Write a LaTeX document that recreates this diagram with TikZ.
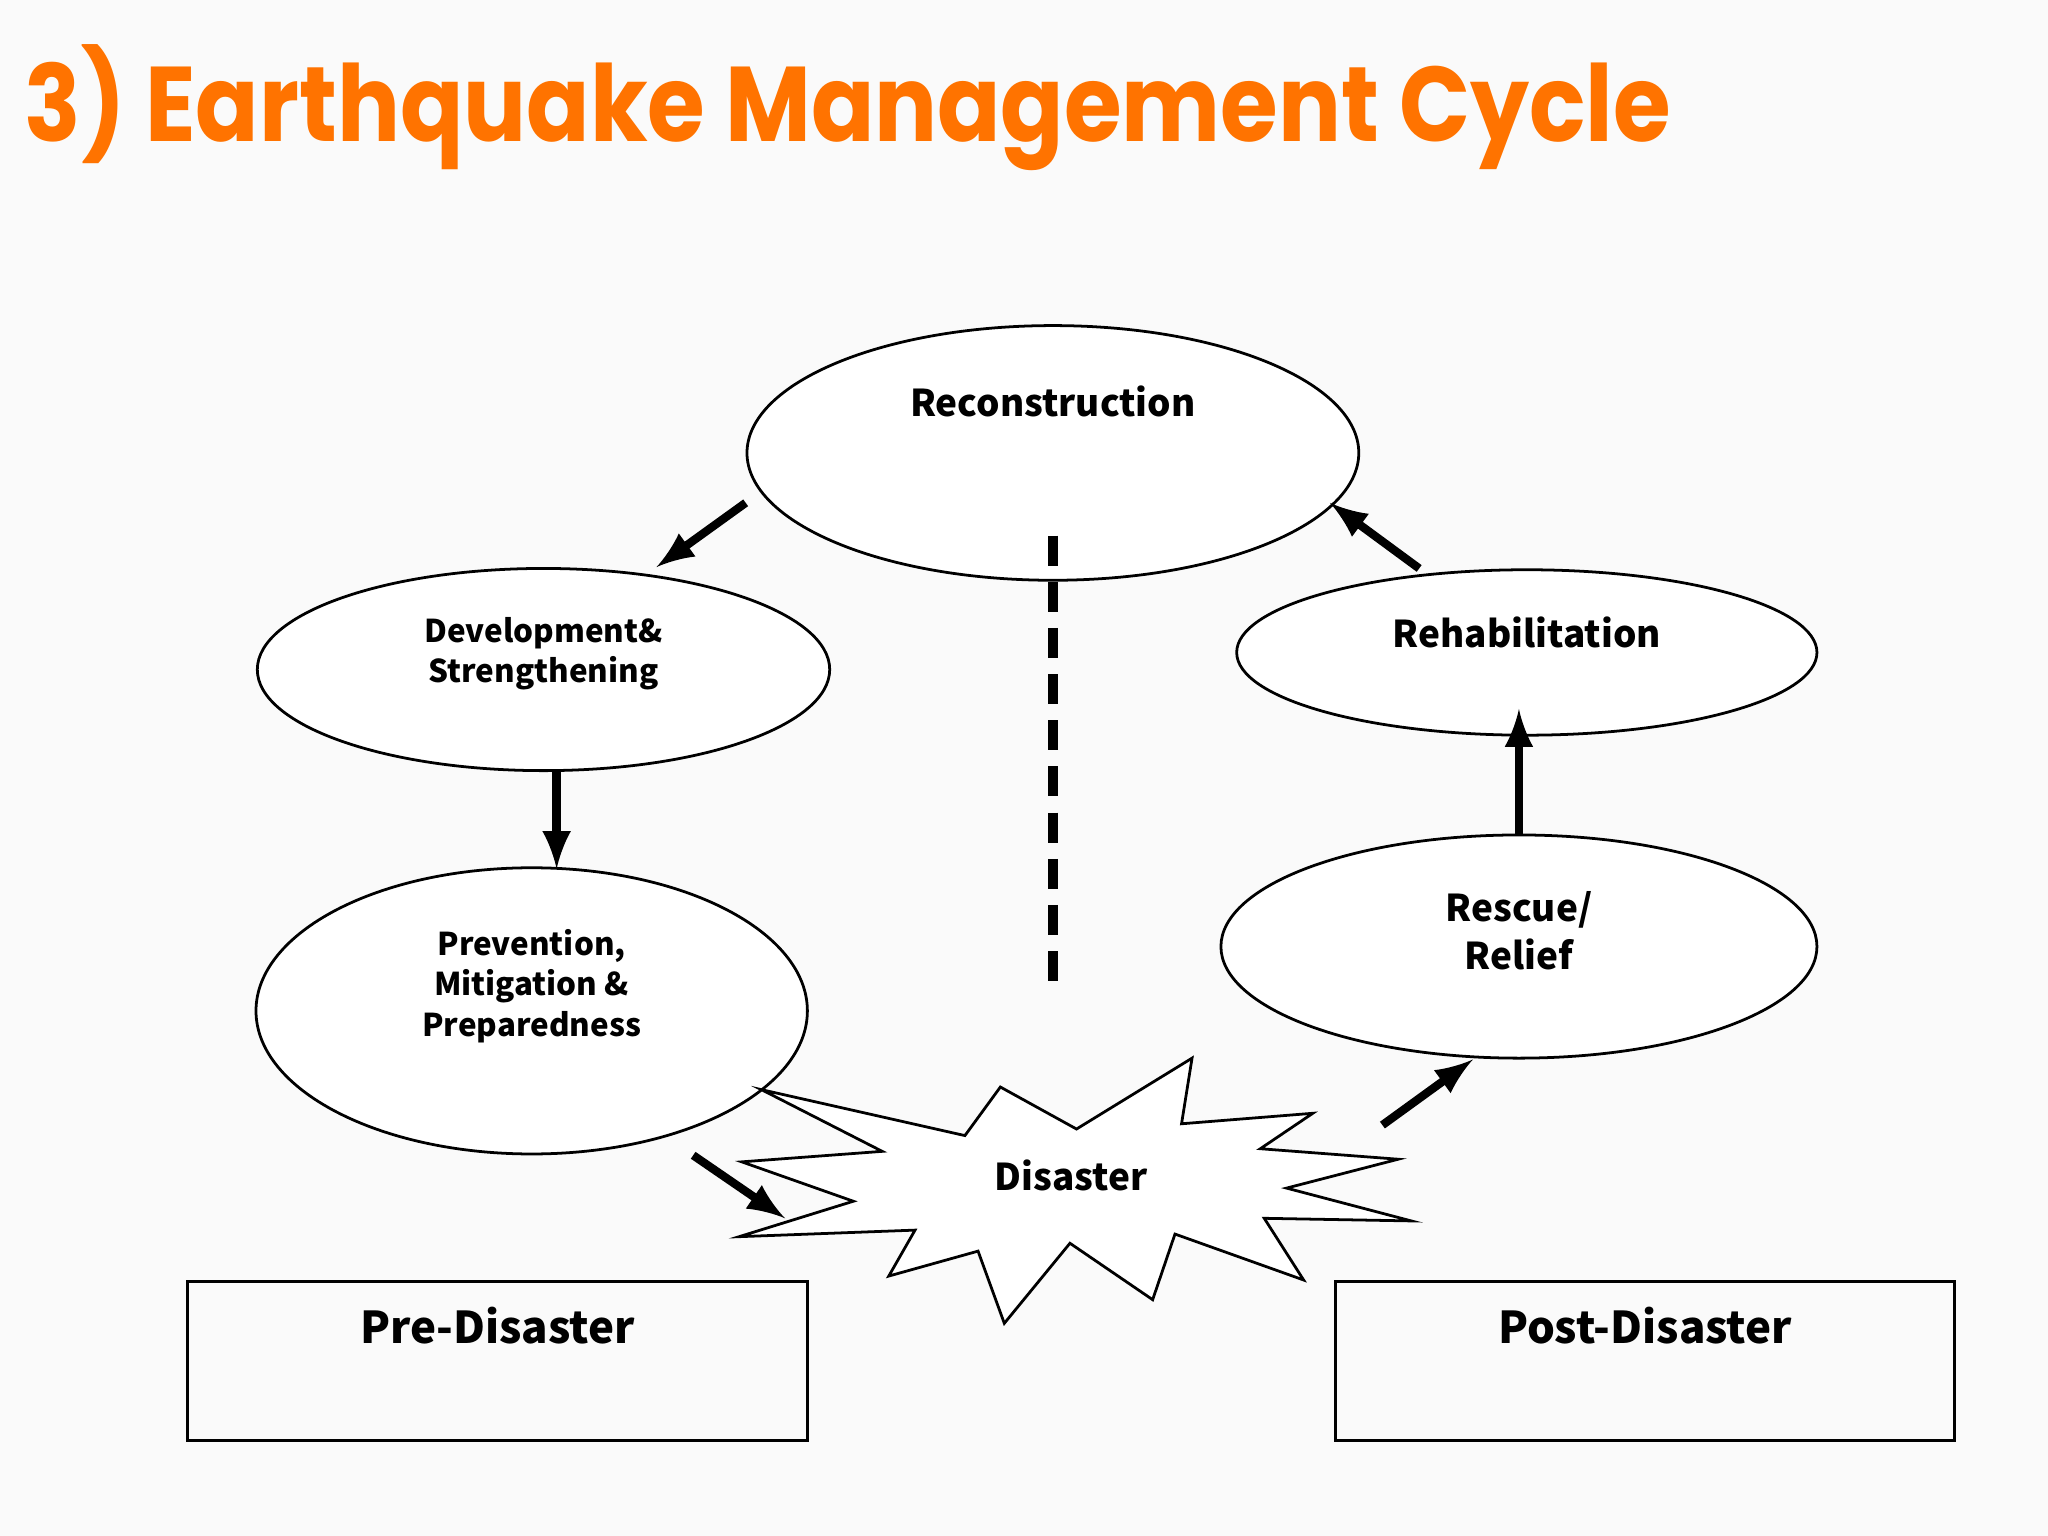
\documentclass[tikz,border=0pt]{standalone}
\usepackage{fontspec}
\setmainfont{Noto Sans CJK JP}
\newfontfamily\titlefont[FakeStretch=0.88]{Poppins}
\begin{document}
\begin{tikzpicture}[x=0.01cm,y=-0.01cm,
  lbl/.style={align=center},
  arr/.style={-latex,line width=1.8pt},
  box/.style={draw,semithick}]
\useasboundingbox (0,0) rectangle (1560,1170);
\fill[white!98!black] (0,0) rectangle (1560,1170);
\node[anchor=base west,inner sep=0pt,text=orange!90!red,font=\titlefont\fontsize{23pt}{26pt}\selectfont\bfseries] (title) at (18,108) {3) Earthquake Management Cycle};
% ellipses
\draw[semithick,fill=white] (802,345) ellipse [x radius=233,y radius=97];
\node[lbl,font=\fontsize{8pt}{10pt}\selectfont\bfseries] (rec) at (802,306) {Reconstruction};
\draw[semithick,fill=white] (414,510) ellipse [x radius=218,y radius=77];
\node[lbl,font=\fontsize{6.8pt}{8.8pt}\selectfont\bfseries] (dev) at (414,498) {Development\&\\Strengthening};
\draw[semithick,fill=white] (405,770) ellipse [x radius=210,y radius=109];
\node[lbl,font=\fontsize{6.8pt}{8.8pt}\selectfont\bfseries] (prev) at (405,751) {Prevention,\\Mitigation \&\\Preparedness};
\draw[semithick,fill=white] (1163,497) ellipse [x radius=221,y radius=63];
\node[lbl,font=\fontsize{8pt}{10pt}\selectfont\bfseries] (reh) at (1163,482) {Rehabilitation};
\draw[semithick,fill=white] (1157,721) ellipse [x radius=227,y radius=85];
\node[lbl,font=\fontsize{8pt}{10.5pt}\selectfont\bfseries] (res) at (1157,709) {Rescue/\\Relief};
% starburst
\draw[semithick,fill=white,line join=miter] (580,830) -- (735,865) -- (762,828) -- (820,860) -- (908,806) -- (900,856) -- (1000,848) -- (960,875) -- (1065,883) -- (980,905) -- (1075,930) -- (963,928) -- (993,975) -- (895,940) -- (878,990) -- (815,947) -- (765,1008) -- (745,953) -- (677,972) -- (697,937) -- (563,942) -- (650,915) -- (565,885) -- (672,877) -- cycle;
\node[lbl,font=\fontsize{8pt}{10pt}\selectfont\bfseries] (dis) at (816,895) {Disaster};
% boxes
\draw[box] (143,976) rectangle (615,1097);
\node[lbl,font=\fontsize{9.5pt}{12pt}\selectfont\bfseries] (pre) at (379,1010) {Pre{-}Disaster};
\draw[box] (1017,976) rectangle (1489,1097);
\node[lbl,font=\fontsize{9.5pt}{12pt}\selectfont\bfseries] (post) at (1253,1010) {Post{-}Disaster};
% arrows
\coordinate (a1) at (568,383); \coordinate (b1) at (500,432);
\coordinate (a2) at (424,588); \coordinate (b2) at (424,662);
\coordinate (a3) at (528,880); \coordinate (b3) at (598,928);
\coordinate (a4) at (1053,857); \coordinate (b4) at (1122,807);
\coordinate (a5) at (1157,636); \coordinate (b5) at (1157,540);
\coordinate (a6) at (1081,433); \coordinate (b6) at (1013,383);
\foreach \i in {1,...,6} \draw[arr] (a\i) -- (b\i);
\coordinate (d1) at (802,408); \coordinate (d2) at (802,758);
\draw[line width=2.2pt,dash pattern=on 6.5pt off 3.5pt] (d1) -- (d2);
\end{tikzpicture}
\end{document}
